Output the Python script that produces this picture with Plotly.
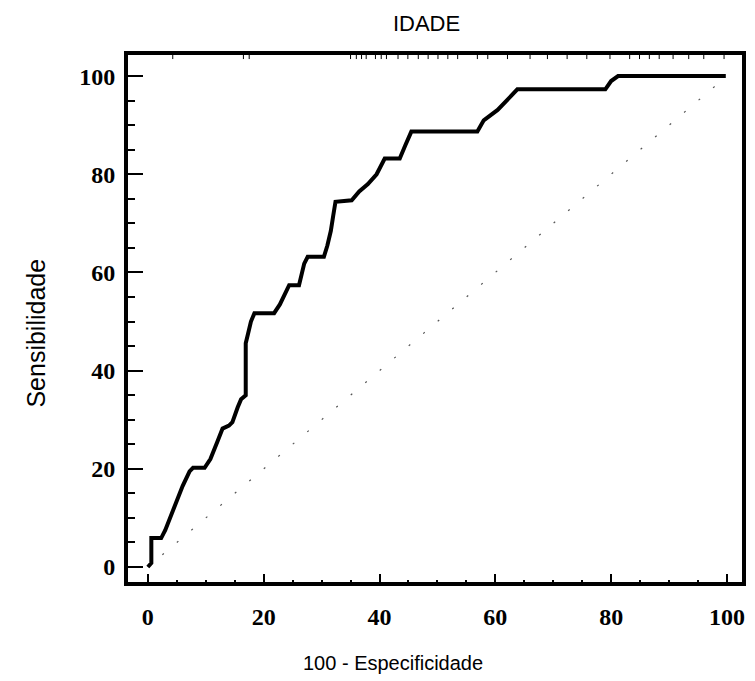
import plotly.graph_objects as go

# ROC curve for IDADE
fpr = [0, 0.6, 0.6, 2.3, 3.0, 4.0, 5.0, 6.0, 7.2, 7.8, 9.8, 10.8, 12.0, 12.9, 14.0,
       14.6, 15.5, 16.1, 16.9, 16.9, 17.3, 17.8, 18.4, 21.8, 22.8, 23.8, 24.4, 26.1,
       26.6, 27.0, 27.6, 30.4, 31.0, 31.6, 32.0, 32.4, 35.2, 36.5, 38.0, 39.5, 40.9,
       43.5, 44.5, 45.5, 56.9, 58.0, 60.4, 62.0, 63.8, 79.0, 80.0, 81.2, 99.8]
tpr = [0, 0.8, 5.9, 5.9, 7.5, 10.5, 13.5, 16.5, 19.5, 20.2, 20.2, 22.0, 25.5, 28.2, 28.8,
       29.5, 32.5, 34.2, 35.0, 45.6, 47.5, 50.0, 51.7, 51.7, 53.5, 56.0, 57.4, 57.4,
       59.5, 61.8, 63.2, 63.2, 65.5, 68.5, 71.5, 74.4, 74.7, 76.5, 78.0, 80.0, 83.2,
       83.2, 86.0, 88.7, 88.7, 91.0, 93.1, 95.0, 97.3, 97.3, 99.0, 100.0, 100.0]

diag_x = [0, 100]
diag_y = [0, 100]

# small marks along the top edge
rug_x = [4.3, 16.5, 17.5, 35.0, 36.0, 36.9, 37.7, 39.3, 40.3, 41.2, 43.2, 44.9, 46.7,
         48.4, 50.1, 51.8, 53.5, 56.9, 58.7, 62.1, 66.0, 69.0, 72.4, 75.8, 79.8, 83.2,
         84.9, 86.6, 88.3, 90.7, 93.4, 96.0, 99.5]
rug_y = [103.9] * len(rug_x)

tick_vals = [0, 20, 40, 60, 80, 100]
tick_text = ["0", "20", "40", "60", "80", "100"]

tickfont = dict(family="Liberation Serif, Times New Roman, serif", size=24,
                color="black", weight="bold")
sans = "Liberation Sans, Arial, sans-serif"

fig = go.Figure()
fig.add_trace(go.Scatter(x=diag_x, y=diag_y, mode="lines",
                         line=dict(color="#555555", width=1.2, dash="2px,17px"),
                         hoverinfo="skip", showlegend=False))
fig.add_trace(go.Scatter(x=fpr, y=tpr, mode="lines",
                         line=dict(color="black", width=4),
                         showlegend=False))
fig.add_trace(go.Scatter(x=rug_x, y=rug_y, mode="markers",
                         marker=dict(symbol="line-ns", size=3,
                                     line=dict(color="black", width=1)),
                         hoverinfo="skip", showlegend=False))

fig.update_layout(
    width=755, height=681,
    margin=dict(l=128, r=9, t=55, b=99),
    plot_bgcolor="white", paper_bgcolor="white",
    title=dict(text="IDADE", x=0.565, xanchor="center", y=0.966, yanchor="middle",
               font=dict(family=sans, size=22, color="black")),
    xaxis=dict(range=[-3.43, 102.6], showgrid=False, zeroline=False,
               showline=True, linecolor="black", linewidth=4, mirror=True,
               tickmode="array", tickvals=tick_vals, ticktext=tick_text,
               ticks="inside", ticklen=8, tickwidth=2, tickcolor="black",
               minor=dict(dtick=5, ticks="inside", ticklen=2, tickwidth=2, tickcolor="black"),
               tickfont=tickfont, ticklabelstandoff=10),
    yaxis=dict(range=[-3.05, 104.3], showgrid=False, zeroline=False,
               showline=True, linecolor="black", linewidth=4, mirror=True,
               tickmode="array", tickvals=tick_vals, ticktext=tick_text,
               ticks="inside", ticklen=15, tickwidth=2, tickcolor="black",
               minor=dict(dtick=5, ticks="inside", ticklen=7, tickwidth=2, tickcolor="black"),
               tickfont=tickfont, ticklabelstandoff=4),
    annotations=[
        dict(text="Sensibilidade", xref="paper", yref="paper",
             x=(35 - 128) / 618, y=(582 - 333) / 527,
             xanchor="center", yanchor="middle", textangle=-90, showarrow=False,
             font=dict(family=sans, size=25, color="black")),
        dict(text="100 - Especificidade", xref="paper", yref="paper",
             x=(395 - 128) / 618, y=(582 - 663) / 527,
             xanchor="center", yanchor="middle", showarrow=False,
             font=dict(family=sans, size=20, color="black")),
    ],
)

fig.write_html("out.html")
